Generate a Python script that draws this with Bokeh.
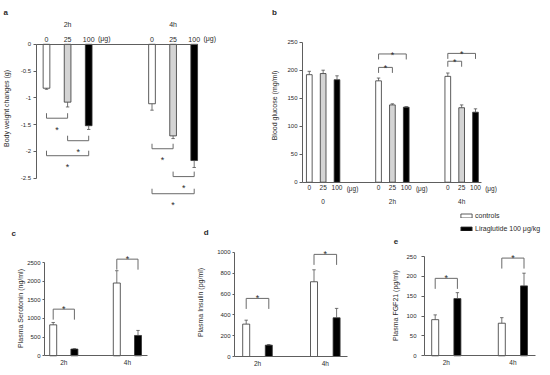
import math
from bokeh.plotting import figure
from bokeh.models import (Range1d, LinearAxis, FixedTicker, Legend, LegendItem,
                          NumeralTickFormatter, ColumnDataSource)
from bokeh.embed import file_html
from bokeh.resources import INLINE
from bokeh.core.properties import value

# ---------------- data ----------------
dose_labels = ["0", "25", "100"]
unit_label = "(μg)"

a_groups = ["2h", "4h"]
a_mean = [[-0.82, -1.08, -1.52], [-1.11, -1.71, -2.17]]
a_err = [[0.02, 0.09, 0.07], [0.12, 0.05, 0.13]]
a_sig = [(0, 0, 1, -1.38), (0, 1, 2, -1.80), (0, 0, 2, -2.08),
         (1, 0, 1, -1.95), (1, 1, 2, -2.47), (1, 0, 2, -2.79)]
a_yticks = [0, -0.5, -1, -1.5, -2, -2.5]
a_title = "Body weight changes (g)"

b_groups = ["0", "2h", "4h"]
b_mean = [[192, 194, 183], [181, 138, 134], [189, 133, 125]]
b_err = [[6, 6, 7], [5, 2, 1], [6, 5, 6]]
b_sig = [(1, 0, 1, 205), (1, 0, 2, 229), (2, 0, 1, 216), (2, 0, 2, 230)]
b_yticks = [0, 50, 100, 150, 200, 250]
b_title = "Blood glucose (mg/ml)"

time_labels = ["2h", "4h"]
legend_labels = ["controls", "Liraglutide 100 μg/kg"]

c_ctrl = [830, 1950]
c_ctrl_err = [63, 330]
c_lira = [180, 545]
c_lira_err = [12, 135]
c_sig = [1250, 2590]
c_yticks = [0, 500, 1000, 1500, 2000, 2500]
c_title = "Plasma Serotonin (ng/ml)"

d_ctrl = [311, 718]
d_ctrl_err = [38, 115]
d_lira = [109, 372]
d_lira_err = [6, 90]
d_sig = [558, 981]
d_yticks = [0, 200, 400, 600, 800, 1000]
d_title = "Plasma Insulin (pg/ml)"

e_ctrl = [91, 82]
e_ctrl_err = [12, 14]
e_lira = [144, 176]
e_lira_err = [15, 32]
e_sig = [195, 246]
e_yticks = [0, 50, 100, 150, 200, 250]
e_title = "Plasma FGF21 (pg/ml)"

# ---------------- styles ----------------
FONT = "Liberation Sans"
TXT = "#2b2b2b"
AXC = "#5e5e5e"
BRC = "#6a6a6a"
EBC = "#505050"
DOSE_FILL = ["#ffffff", "#d4d4d4", "#000000"]
TRT_FILL = ["#ffffff", "#000000"]

# ---------------- canvas ----------------
FW, FH = 542, 367

# per panel: screen x of category 0, px per category, screen y of value 0, px per unit
GEO = {
    "a": (46.0, 21.1, 43.8, 53.56),
    "b": (308.8, 13.85, 181.7, 0.56),
    "c": (52.7, 21.2, 355.3, 0.03732),
    "d": (245.7, 22.6, 356.0, 0.1041),
    "e": (434.7, 22.2, 355.3, 0.3972),
}

xr_extra, yr_extra = {}, {}
for name, (sx0, ux, sy0, vy) in GEO.items():
    xs = -sx0 / ux
    xr_extra[name] = Range1d(xs, xs + FW / ux)
    yb = -(FH - sy0) / vy
    yr_extra[name] = Range1d(yb, yb + FH / vy)


def DX(name, s):
    sx0, ux, _, _ = GEO[name]
    return (s - sx0) / ux


def DY(name, s):
    _, _, sy0, vy = GEO[name]
    return (sy0 - s) / vy


p = figure(width=FW, height=FH, x_range=Range1d(0, FW), y_range=Range1d(-FH, 0),
           x_axis_type=None, y_axis_type=None, toolbar_location=None, output_backend="svg",
           title=None, min_border_left=0, min_border_right=0, min_border_top=0,
           min_border_bottom=0)
p.extra_x_ranges = xr_extra
p.extra_y_ranges = yr_extra
p.outline_line_color = None
p.background_fill_color = "white"
p.border_fill_color = "white"


def kw(name):
    return dict(x_range_name=name, y_range_name=name)


def y_axis(name, ticks, axis_px, tick_out, standoff):
    ax = LinearAxis(fixed_location=DX(name, axis_px), ticker=FixedTicker(ticks=ticks),
                    bounds=(min(ticks), max(ticks)),
                    formatter=NumeralTickFormatter(format="0.[0]"), **kw(name))
    ax.axis_line_color = AXC
    ax.major_tick_line_color = AXC
    ax.major_tick_out = tick_out
    ax.major_tick_in = 0
    ax.minor_tick_line_color = None
    ax.major_label_standoff = standoff
    ax.major_label_text_font = FONT
    ax.major_label_text_font_size = "6px"
    ax.major_label_text_color = TXT
    p.add_layout(ax, "left")


def x_axis(name, ticks, labels, side, loc, standoff, size, bounds=None):
    extra = {"bounds": bounds} if bounds else {}
    ax = LinearAxis(fixed_location=loc, ticker=FixedTicker(ticks=ticks),
                    major_label_overrides={t: l for t, l in zip(ticks, labels)},
                    **extra, **kw(name))
    ax.axis_line_color = AXC if bounds else None
    ax.major_tick_line_color = None
    ax.minor_tick_line_color = None
    ax.major_tick_out = 0
    ax.major_tick_in = 0
    ax.major_label_standoff = standoff
    ax.major_label_text_font = FONT
    ax.major_label_text_font_size = size
    ax.major_label_text_color = TXT
    p.add_layout(ax, side)


def bars(name, xs, tops, bottoms, width_px, fill):
    src = ColumnDataSource(dict(x=xs, top=tops, bottom=bottoms))
    return p.vbar(x="x", top="top", bottom="bottom", width=width_px / GEO[name][1],
                  fill_color=fill, line_color="#333333", line_width=0.8, source=src, **kw(name))


def errbars(name, xs, starts, ends):
    cap = 1.7 / GEO[name][1]
    p.segment(x0=xs, y0=starts, x1=xs, y1=ends, line_color=EBC, line_width=0.8, **kw(name))
    p.segment(x0=[x - cap for x in xs], y0=ends, x1=[x + cap for x in xs], y1=ends,
              line_color=EBC, line_width=0.8, **kw(name))


def brackets(name, pairs, levels, tick_px, star_px):
    # tick_px > 0: ticks go up; star_px > 0: star centre above the line
    vy = GEO[name][3]
    xs, ys, sx, sy = [], [], [], []
    for (x0, x1), lv in zip(pairs, levels):
        t = tick_px / vy
        xs.append([x0, x0, x1, x1])
        ys.append([lv + t, lv, lv, lv + t])
        sx.append((x0 + x1) / 2)
        sy.append(lv + (star_px - 5.2) / vy)
    p.multi_line(xs=xs, ys=ys, line_color=BRC, line_width=1, **kw(name))
    p.text(x=sx, y=sy, text=["*"] * len(sx), text_align="center", text_baseline="alphabetic",
           text_font=value(FONT), text_font_size="9px", text_color=TXT, **kw(name))


def screen_text(x, y, txt, size, angle=0.0, bold=False, align="left", baseline="alphabetic"):
    p.text(x=[x], y=[-y], text=[txt], angle=angle, text_align=align, text_baseline=baseline,
           text_font=value(FONT), text_font_size=size, text_color=TXT,
           text_font_style="bold" if bold else "normal")


# ---------------- panel a ----------------
for gi in range(len(a_groups)):
    xs = [gi * 5 + k for k in range(3)]
    for k in range(3):
        bars("a", [xs[k]], [0], [a_mean[gi][k]], 6.7, DOSE_FILL[k])
    errbars("a", xs, a_mean[gi], [m - e for m, e in zip(a_mean[gi], a_err[gi])])
brackets("a", [(g * 5 + i, g * 5 + j) for g, i, j, _ in a_sig], [s[3] for s in a_sig], 5, -6.5)
y_axis("a", a_yticks, 35.5, 3, 2)
x_axis("a", [g * 5 + k for g in range(2) for k in range(3)], dose_labels * 2, "above", 0, 2,
       "7px", bounds=(DX("a", 35.5), DX("a", 197)))
x_axis("a", [1, 6], a_groups, "above", DY("a", 29), 2, "7px")
p.text(x=[g * 5 + 2 + 15.5 / GEO["a"][1] for g in range(2)], y=[DY("a", 38)] * 2,
       text=[unit_label] * 2, text_align="center", text_baseline="middle",
       text_font=value(FONT), text_font_size="7px", text_color=TXT, **kw("a"))
screen_text(6, 108, a_title, "7px", angle=math.pi / 2, align="center", baseline="middle")
screen_text(3, 12, "a", "8px", bold=True)

# ---------------- panel b ----------------
for gi in range(len(b_groups)):
    xs = [gi * 5 + k for k in range(3)]
    for k in range(3):
        bars("b", [xs[k]], [b_mean[gi][k]], [0], 5.7, DOSE_FILL[k])
    errbars("b", xs, b_mean[gi], [m + e for m, e in zip(b_mean[gi], b_err[gi])])
brackets("b", [(g * 5 + i, g * 5 + j) for g, i, j, _ in b_sig], [s[3] for s in b_sig], -5.5, 4.5)
y_axis("b", b_yticks, 302, 3, 2)
x_axis("b", [g * 5 + k for g in range(3) for k in range(3)], dose_labels * 3, "below", 0, 3,
       "6.5px", bounds=(DX("b", 302), DX("b", 480.7)))
x_axis("b", [1, 6, 11], b_groups, "below", DY("b", 195), 2, "6.5px")
p.text(x=[g * 5 + 2 + 15.5 / GEO["b"][1] for g in range(3)], y=[DY("b", 188.3)] * 3,
       text=[unit_label] * 3, text_align="center", text_baseline="middle",
       text_font=value(FONT), text_font_size="6.5px", text_color=TXT, **kw("b"))
screen_text(273.5, 105, b_title, "7px", angle=math.pi / 2, align="center", baseline="middle")
screen_text(271.5, 12, "b", "8px", bold=True)


# ---------------- panels c, d, e ----------------
def treat_panel(name, ctrl, ctrl_err, lira, lira_err, sig, yticks, axis_px, end_px,
                tick_out, standoff):
    rends = []
    for k, (vals, errs) in enumerate([(ctrl, ctrl_err), (lira, lira_err)]):
        xs = [g * 3 + k for g in range(len(vals))]
        rends.append(bars(name, xs, vals, [0] * len(vals), 7.0, TRT_FILL[k]))
        errbars(name, xs, vals, [v + e for v, e in zip(vals, errs)])
    brackets(name, [(g * 3, g * 3 + 1) for g in range(len(sig))], sig, -10.5, 5.5)
    y_axis(name, yticks, axis_px, tick_out, standoff)
    x_axis(name, [g * 3 + 0.5 for g in range(len(time_labels))], time_labels, "below", 0, 3,
           "6.5px", bounds=(DX(name, axis_px), DX(name, end_px)))
    return rends


treat_panel("c", c_ctrl, c_ctrl_err, c_lira, c_lira_err, c_sig, c_yticks, 44, 147, 2, 2)
screen_text(20, 308, c_title, "7px", angle=math.pi / 2, align="center", baseline="middle")
screen_text(11, 232.7, "c", "8px", bold=True)

treat_panel("d", d_ctrl, d_ctrl_err, d_lira, d_lira_err, d_sig, d_yticks, 234, 347.3, 2, 2)
screen_text(200, 302, d_title, "7px", angle=math.pi / 2, align="center", baseline="middle")
screen_text(203.3, 232, "d", "8px", bold=True)

rends = treat_panel("e", e_ctrl, e_ctrl_err, e_lira, e_lira_err, e_sig, e_yticks, 424, 535, 3, 5)
screen_text(395, 305, e_title, "7px", angle=math.pi / 2, align="center", baseline="middle")
screen_text(393.3, 240.7, "e", "8px", bold=True)

leg = Legend(items=[LegendItem(label=legend_labels[0], renderers=[rends[0]]),
                    LegendItem(label=legend_labels[1], renderers=[rends[1]])],
             location=(459, 134.2), orientation="vertical", glyph_width=14, glyph_height=5,
             label_height=9, label_standoff=2, spacing=4, padding=0, margin=0,
             border_line_color=None, background_fill_alpha=0,
             label_text_font=FONT, label_text_font_size="7px", label_text_color=TXT)
p.add_layout(leg)

open("out.html", "w").write(file_html(p, INLINE))
